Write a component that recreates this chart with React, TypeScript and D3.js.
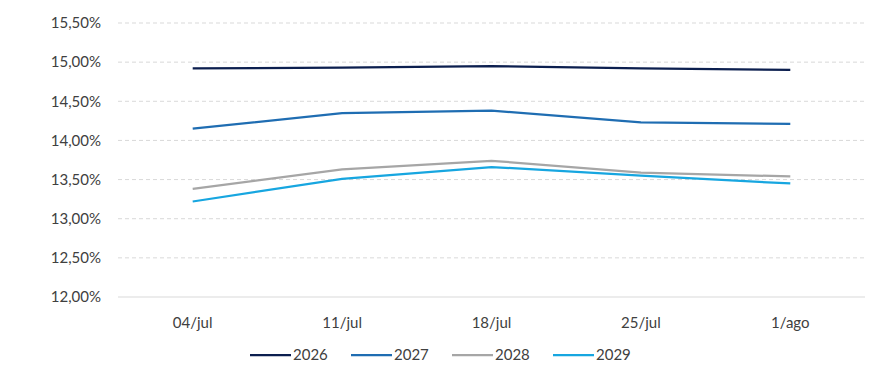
import * as d3 from "d3";

const categories = ["04/jul", "11/jul", "18/jul", "25/jul", "1/ago"];
const seriesNames = ["2026", "2027", "2028", "2029"];
const values2026 = [14.92, 14.93, 14.95, 14.92, 14.9];
const values2027 = [14.15, 14.35, 14.38, 14.23, 14.21];
const values2028 = [13.38, 13.63, 13.74, 13.59, 13.54];
const values2029 = [13.22, 13.51, 13.66, 13.55, 13.45];
const yTicks = [12, 12.5, 13, 13.5, 14, 14.5, 15, 15.5];
const colors = ["#0c1f4f", "#1f6db2", "#a6a6a6", "#17a6e0"];

const App = () => {
  const width = 878,
    height = 388;
  const left = 118,
    right = 865,
    top = 23,
    bottom = 297;

  const x = d3.scalePoint().domain(categories).range([left, right]).padding(0.5);
  const y = d3.scaleLinear().domain([12, 15.5]).range([bottom, top]);

  const allSeries = [values2026, values2027, values2028, values2029];
  const line = d3
    .line<number>()
    .x((_, i) => x(categories[i]) as number)
    .y((d) => y(d));

  const fmt = (v: number) => v.toFixed(2).replace(".", ",") + "%";
  const font = "Lato, 'Open Sans', sans-serif";

  // legend positions
  const legendX = d3.scalePoint().domain(seriesNames).range([250, 553]);

  return (
    <svg
      width={width}
      height={height}
      style={{ position: "absolute", left: 0, top: 0, background: "#fff" }}
      fontFamily={font}
    >
      {yTicks.map((t) => (
        <g key={t}>
          <line
            x1={left}
            x2={right}
            y1={y(t)}
            y2={y(t)}
            stroke="#d9d9d9"
            strokeWidth={1}
            strokeDasharray={t === 12 ? undefined : "4,3"}
          />
          <text
            x={101}
            y={y(t)}
            dy="0.35em"
            textAnchor="end"
            fontSize={15}
            fill="#404040"
          >
            {fmt(t)}
          </text>
        </g>
      ))}
      {categories.map((c) => (
        <text
          key={c}
          x={x(c)}
          y={328}
          textAnchor="middle"
          fontSize={15}
          fill="#404040"
        >
          {c}
        </text>
      ))}
      {allSeries.map((s, i) => (
        <path
          key={seriesNames[i]}
          d={line(s) || ""}
          fill="none"
          stroke={colors[i]}
          strokeWidth={2.25}
        />
      ))}
      {seriesNames.map((n, i) => {
        const lx = legendX(n) as number;
        return (
          <g key={n}>
            <line x1={lx} x2={lx + 41} y1={355} y2={355} stroke={colors[i]} strokeWidth={2.25} />
            <text x={lx + 43} y={355} dy="0.35em" fontSize={15} fill="#404040">
              {n}
            </text>
          </g>
        );
      })}
    </svg>
  );
};

export default App;
